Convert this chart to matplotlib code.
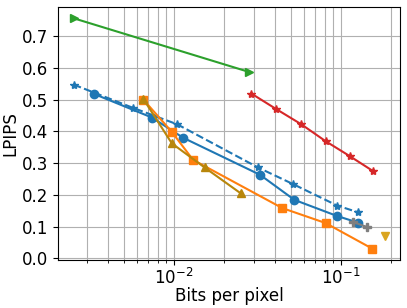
import numpy as np
import matplotlib
matplotlib.use('Agg')
import matplotlib.pyplot as plt
from matplotlib.ticker import MultipleLocator

# (bpp vs LPIPS)
blue_dash_bpp = [0.00251, 0.00567, 0.01045, 0.0318, 0.0514, 0.0948, 0.126]
blue_dash_lpips = [0.547, 0.474, 0.422, 0.286, 0.234, 0.166, 0.145]

blue_bpp = [0.00331, 0.00740, 0.0113, 0.0327, 0.0525, 0.0948, 0.1267]
blue_lpips = [0.518, 0.443, 0.380, 0.263, 0.184, 0.133, 0.112]

orange_bpp = [0.00655, 0.0097, 0.0130, 0.0445, 0.0807, 0.154]
orange_lpips = [0.500, 0.398, 0.310, 0.158, 0.111, 0.030]

gold_bpp = [0.00655, 0.0097, 0.01524, 0.0250]
gold_lpips = [0.502, 0.362, 0.286, 0.205]

green_bpp = [0.00251, 0.0281]
green_lpips = [0.756, 0.587]

red_bpp = [0.029, 0.0406, 0.0578, 0.0807, 0.1125, 0.156]
red_lpips = [0.519, 0.471, 0.422, 0.369, 0.322, 0.274]

gray_bpp = [0.118, 0.142]
gray_lpips = [0.114, 0.099]

single_bpp = [0.182]
single_lpips = [0.070]

plt.rcParams['font.size'] = 12

fig = plt.figure(figsize=(4.07, 3.08), dpi=100)
ax = fig.add_axes([0.143, 0.155, 0.840, 0.823])

ax.plot(green_bpp, green_lpips, '->', color='tab:green', ms=6, lw=1.5)
ax.plot(blue_dash_bpp, blue_dash_lpips, '--*', color='tab:blue', ms=6, lw=1.5)
ax.plot(blue_bpp, blue_lpips, '-o', color='tab:blue', ms=6, lw=1.5)
ax.plot(orange_bpp, orange_lpips, '-s', color='tab:orange', ms=6, lw=1.5)
ax.plot(gold_bpp, gold_lpips, '-^', color='darkgoldenrod', ms=6, lw=1.5)
ax.plot(red_bpp, red_lpips, '-*', color='tab:red', ms=6, lw=1.5)
ax.plot(gray_bpp, gray_lpips, '-P', color='tab:gray', ms=6, lw=1.5)
ax.plot(single_bpp, single_lpips, 'v', color='goldenrod', ms=6)

ax.set_xscale('log')
ax.yaxis.set_major_locator(MultipleLocator(0.1))
ax.tick_params(axis='x', which='major', pad=2)
ax.set_xlabel('Bits per pixel', labelpad=-1)
ax.set_ylabel('LPIPS', labelpad=2)
ax.grid(True, which='both')

fig.savefig('out.png', dpi=100)
